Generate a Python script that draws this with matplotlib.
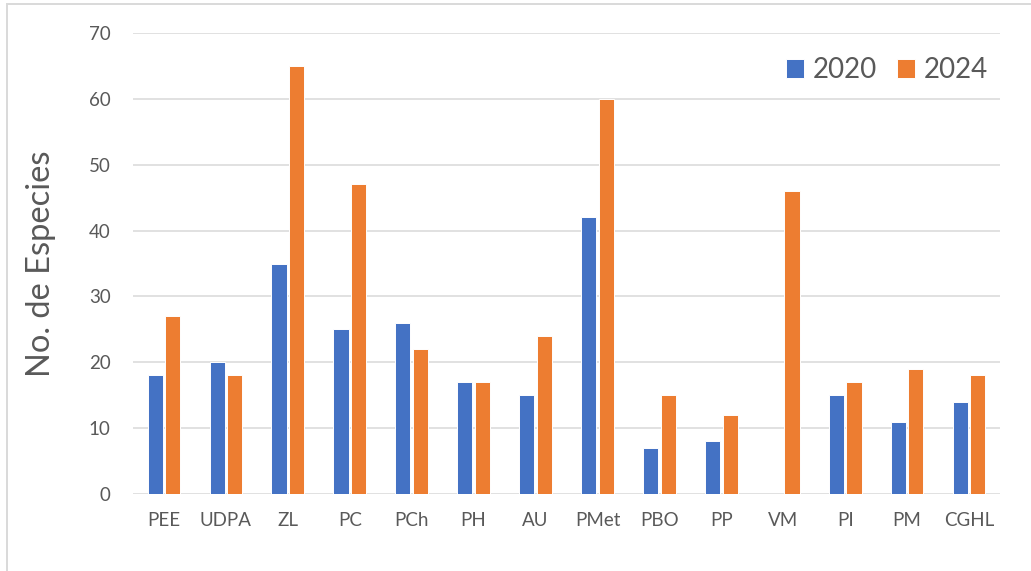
import matplotlib
matplotlib.use("Agg")
import matplotlib.pyplot as plt
from matplotlib.patches import Rectangle
import numpy as np

# Species counts per site, 2020 vs 2024
sites = ["PEE", "UDPA", "ZL", "PC", "PCh", "PH", "AU", "PMet",
         "PBO", "PP", "VM", "PI", "PM", "CGHL"]
species_2020 = [18, 20, 35, 25, 26, 17, 15, 42, 7, 8, 0, 15, 11, 14]
species_2024 = [27, 18, 65, 47, 22, 17, 24, 60, 15, 12, 46, 17, 19, 18]
series_labels = ["2020", "2024"]
y_ticks = [0, 10, 20, 30, 40, 50, 60, 70]

BLUE = "#4472C4"
ORANGE = "#ED7D31"
GRID = "#D9D9D9"
TEXT = "#595959"

plt.rcParams["font.family"] = ["Lato", "DejaVu Sans"]

W, H = 1031, 571
fig = plt.figure(figsize=(W / 100, H / 100), dpi=100)
ax = fig.add_axes([133 / W, 1 - 494 / H, (1000 - 133) / W, (494 - 33) / H])

x = np.arange(len(sites))
width = 0.245
offset = 0.142
ax.bar(x - offset, species_2020, width, color=BLUE, edgecolor="white",
       linewidth=0.7, label=series_labels[0], zorder=3)
ax.bar(x + offset, species_2024, width, color=ORANGE, edgecolor="white",
       linewidth=0.7, label=series_labels[1], zorder=3)

ax.set_xlim(-0.5, len(sites) - 0.5)
ax.set_ylim(0, 70)
ax.set_yticks(y_ticks)
ax.set_xticks(x)
ax.set_xticklabels(sites)

ax.yaxis.grid(True, color=GRID, linewidth=1.1, zorder=0)
ax.set_axisbelow(True)
for side in ("top", "right", "left", "bottom"):
    ax.spines[side].set_visible(False)
ax.tick_params(axis="both", length=0, labelsize=13.5, labelcolor=TEXT)
ax.tick_params(axis="y", pad=16)
ax.tick_params(axis="x", pad=13)

ax.set_ylabel("No. de Especies", fontsize=23.5, color=TEXT)
ax.yaxis.set_label_coords((56 - 133) / (1000 - 133), 0.5)

fig.legend(loc="center right", bbox_to_anchor=(988 / W, 1 - 70 / H),
           ncol=2, frameon=False, fontsize=20, labelcolor=TEXT,
           handlelength=0.65, handleheight=0.65, handletextpad=0.32,
           columnspacing=0.72, borderpad=0, borderaxespad=0)

# light frame around the chart area
fig.patches.append(Rectangle((7 / W, -0.1), 1.2, 1 - 4 / H + 0.1,
                             transform=fig.transFigure, fill=False,
                             edgecolor=GRID, linewidth=1.4))

fig.savefig("out.png", dpi=100)
